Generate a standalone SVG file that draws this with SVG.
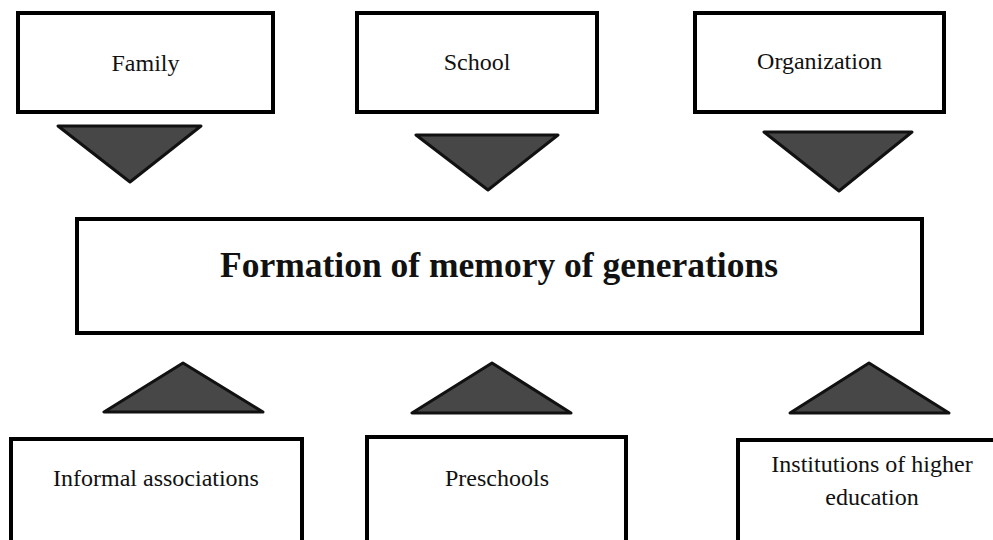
<svg xmlns="http://www.w3.org/2000/svg" width="993" height="540" viewBox="0 0 993 540">
<style>
.box{fill:#fff;stroke:#000;stroke-width:4}
.tri{fill:#474747;stroke:#111;stroke-width:3;stroke-linejoin:round}
.t{font-family:"Liberation Serif","Times New Roman",serif;font-size:24px;fill:#111;text-anchor:middle}
.title{font-family:"Liberation Serif","Times New Roman",serif;font-size:35.5px;font-weight:bold;fill:#111;text-anchor:middle}
</style>
<rect width="993" height="540" fill="#fff"/>
<g id="family"><rect class="box" x="18" y="13" width="255" height="99"/><text class="t" x="145.5" y="71">Family</text></g>
<g id="school"><rect class="box" x="357" y="13" width="240" height="99"/><text class="t" x="477" y="70">School</text></g>
<g id="organization"><rect class="box" x="695" y="13" width="249" height="99"/><text class="t" x="819.5" y="69">Organization</text></g>
<g id="formation"><rect class="box" x="77" y="219" width="845" height="114"/><text class="title" x="499" y="277">Formation of memory of generations</text></g>
<g id="informal"><rect class="box" x="11" y="439" width="291" height="130"/><text class="t" x="156" y="486">Informal associations</text></g>
<g id="preschools"><rect class="box" x="367" y="437" width="259" height="130"/><text class="t" x="497" y="486">Preschools</text></g>
<g id="higher"><rect class="box" x="738" y="440" width="280" height="130"/><text class="t" x="872" y="472">Institutions of higher</text><text class="t" x="872" y="505">education</text></g>
<g id="connectors">
<polygon class="tri" points="58,126 201,126 130,182"/>
<polygon class="tri" points="416,135 558,135 488,190"/>
<polygon class="tri" points="764,132 912,132 839,191"/>
<polygon class="tri" points="104,412 263,412 183,363"/>
<polygon class="tri" points="412,413 571,413 492,363"/>
<polygon class="tri" points="790,413 949,413 869,363"/>
</g>
</svg>
